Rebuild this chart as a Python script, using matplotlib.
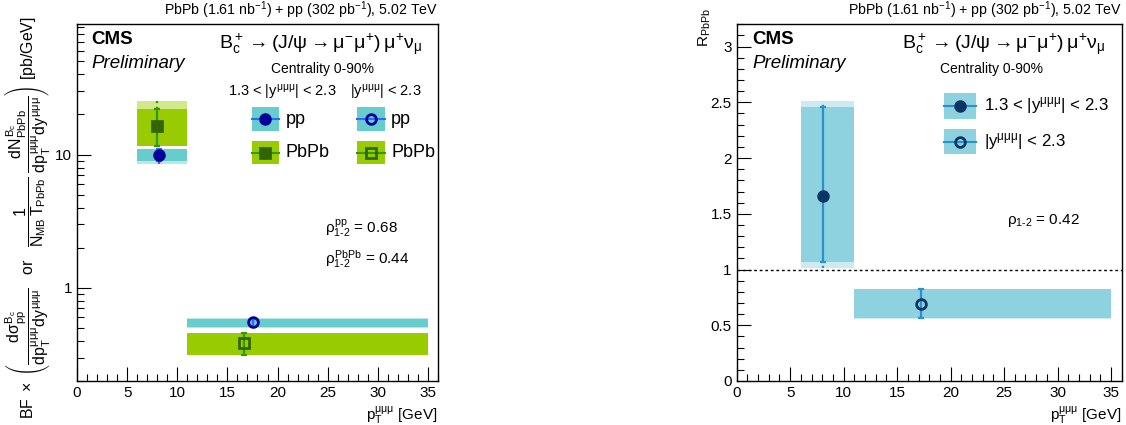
import numpy as np
import matplotlib
matplotlib.use('Agg')
import matplotlib.pyplot as plt
from matplotlib.patches import Rectangle
from matplotlib.lines import Line2D
from matplotlib.ticker import MultipleLocator, LogLocator, FixedLocator, NullFormatter

plt.rcParams['font.family'] = ['Liberation Sans', 'DejaVu Sans']
plt.rcParams['mathtext.fontset'] = 'custom'
plt.rcParams['mathtext.rm'] = 'Liberation Sans'
plt.rcParams['mathtext.it'] = 'Liberation Sans'
plt.rcParams['mathtext.bf'] = 'Liberation Sans:bold'

# ---- data: cross sections / yields (left panel) ----
bin_lo = [6, 11]
bin_hi = [11, 35]

# 1.3 < |y| < 2.3 (first bin), |y| < 2.3 (second bin)
pp_x = [8.15, 17.6]
pp_y = [10.0, 0.551]
pp_lo = [9.0, 0.505]
pp_hi = [11.1, 0.588]
pp_ext_lo = [8.5, 0.50]
pp_ext_hi = [11.1, 0.59]

pbpb_x = [8.0, 16.7]
pbpb_y = [16.5, 0.385]
pbpb_lo = [11.55, 0.315]
pbpb_hi = [22.1, 0.458]
pbpb_ext_lo = [11.55, 0.315]
pbpb_ext_hi = [25.1, 0.458]

# ---- data: R_PbPb (right panel) ----
raa_x = [8.1, 17.2]
raa_y = [1.66, 0.69]
raa_lo = [1.07, 0.563]
raa_hi = [2.457, 0.823]
raa_ext_lo = [1.017, 0.56]
raa_ext_hi = [2.51, 0.826]

rho_pp = 0.68
rho_pbpb = 0.44
rho_raa = 0.42

cyan = '#66cccc'
lime = '#99cc00'
navy = '#000099'
blue = '#3366ff'
dgreen = '#336600'
green = '#339900'
lblue = '#8fd2df'
rnavy = '#0a3566'
rline = '#2b8fcf'

mu3 = r'\mu\mu\mu'
fig = plt.figure(figsize=(11.26, 4.25), dpi=100)
ax1 = fig.add_axes([77/1126, 1-381/425, 361/1126, 356.7/425])
ax2 = fig.add_axes([736.7/1126, 1-381/425, 385/1126, 356.7/425])


def draw_point(ax, x, y, lo, hi, elo, ehi, b0, b1, fc, mc, lc, filled, marker):
    w = b1 - b0
    ax.bar(b0, ehi - elo, width=w, bottom=elo, align='edge', color=fc, alpha=0.45, lw=0, zorder=1)
    ax.bar(b0, hi - lo, width=w, bottom=lo, align='edge', color=fc, lw=0, zorder=2)
    ax.errorbar([x], [y], yerr=[[y - lo], [hi - y]], fmt='none', ecolor=lc,
                elinewidth=1.6, capsize=2.5, capthick=1.6, zorder=3)
    if ehi > hi:
        ax.vlines(x, hi, ehi, colors=lc, linestyles=':', lw=1.6, zorder=3)
    if elo < lo:
        ax.vlines(x, elo, lo, colors=lc, linestyles=':', lw=1.6, zorder=3)
    ax.plot([x], [y], marker=marker, ms=7, mec=mc, mew=2,
            mfc=mc if filled else 'none', ls='none', zorder=4)


def style_axes(ax):
    ax.set_xlim(0, 36)
    ax.xaxis.set_major_locator(MultipleLocator(5))
    ax.xaxis.set_minor_locator(MultipleLocator(1))
    ax.tick_params(which='both', direction='in', top=False, right=False, labelsize=11, width=0.8)
    ax.tick_params(which='major', length=10)
    ax.tick_params(which='minor', length=5)
    for s in ax.spines.values():
        s.set_linewidth(1.0)
    ax.text(1.0, 1.008, r'PbPb (1.61 nb$^{-1}$) + pp (302 pb$^{-1}$), 5.02 TeV',
            transform=ax.transAxes, ha='right', va='bottom', fontsize=10.2)
    ax.text(0.04, 0.98, 'CMS', transform=ax.transAxes, ha='left', va='top',
            fontsize=13.5, fontweight='bold')
    ax.text(0.04, 0.915, 'Preliminary', transform=ax.transAxes, ha='left', va='top',
            fontsize=13.5, style='italic')
    ax.text(1.0, -0.065, r'p$_{\mathrm{T}}^{' + mu3 + r'}$ [GeV]', transform=ax.transAxes,
            ha='right', va='top', fontsize=11)


# ---- left panel ----
for i in range(2):
    draw_point(ax1, pbpb_x[i], pbpb_y[i], pbpb_lo[i], pbpb_hi[i], pbpb_ext_lo[i], pbpb_ext_hi[i],
               bin_lo[i], bin_hi[i], lime, dgreen, green, i == 0, 's')
    draw_point(ax1, pp_x[i], pp_y[i], pp_lo[i], pp_hi[i], pp_ext_lo[i], pp_ext_hi[i],
               bin_lo[i], bin_hi[i], cyan, navy, blue, i == 0, 'o')

ax1.set_yscale('log')
ax1.set_ylim(0.2, 95)
ax1.yaxis.set_major_locator(FixedLocator([1, 10]))
ax1.yaxis.set_major_formatter(matplotlib.ticker.FixedFormatter(['1', '10']))
ax1.yaxis.set_minor_locator(LogLocator(base=10, subs=np.arange(2, 10)))
ax1.yaxis.set_minor_formatter(NullFormatter())
style_axes(ax1)

decay = r'$\mathrm{B_c^+}\rightarrow(\mathrm{J}/\psi\rightarrow\mu^{-}\mu^{+})\,\mu^{+}\nu_{\mu}$'
ax1.text(0.394, 0.945, decay, transform=ax1.transAxes, ha='left', va='center', fontsize=14)
ax1.text(0.681, 0.875, 'Centrality 0-90%', transform=ax1.transAxes, ha='center', va='center', fontsize=10)
ax1.text(0.568, 0.81, r'1.3 < |y$^{' + mu3 + r'}$| < 2.3', transform=ax1.transAxes,
         ha='center', va='center', fontsize=10.5)
ax1.text(0.856, 0.81, r'|y$^{' + mu3 + r'}$| < 2.3', transform=ax1.transAxes,
         ha='center', va='center', fontsize=10.5)

leg_rows = [(0.702, 0.767, cyan, navy, blue, 'o', 'pp'),
            (0.6075, 0.673, lime, dgreen, green, 's', 'PbPb')]
for x0, x1, tx, filled in [(0.484, 0.560, 0.578, True), (0.776, 0.852, 0.870, False)]:
    for y0, y1, fc, mc, lc, mk, lab in leg_rows:
        ax1.add_patch(Rectangle((x0, y0), x1 - x0, y1 - y0, transform=ax1.transAxes,
                                color=fc, lw=0, clip_on=False))
        yc = 0.5 * (y0 + y1)
        ax1.add_line(Line2D([x0, x1], [yc, yc], transform=ax1.transAxes, color=lc, lw=1.5))
        ax1.add_line(Line2D([0.5 * (x0 + x1)], [yc], transform=ax1.transAxes, marker=mk, ms=7,
                            mec=mc, mew=2, mfc=mc if filled else 'none', ls='none'))
        ax1.text(tx, yc, lab, transform=ax1.transAxes, ha='left', va='center', fontsize=13)

ax1.text(0.687, 0.429, r'$\rho^{\mathrm{pp}}_{\mathrm{1\text{-}2}}$ = %.2f' % rho_pp,
         transform=ax1.transAxes, ha='left', va='center', fontsize=11)
ax1.text(0.687, 0.342, r'$\rho^{\mathrm{PbPb}}_{\mathrm{1\text{-}2}}$ = %.2f' % rho_pbpb,
         transform=ax1.transAxes, ha='left', va='center', fontsize=11)

ylab = (r'$\mathrm{BF}\ \times\ \left(\dfrac{d\sigma^{B_c}_{pp}}{dp_T^{' + mu3 + r'}dy^{' + mu3 +
        r'}}\ \ \ \mathrm{or}\ \ \ \dfrac{1}{N_{MB}\,T_{PbPb}}\ \dfrac{dN^{B_c}_{PbPb}}{dp_T^{' + mu3 +
        r'}dy^{' + mu3 + r'}}\right)$ [pb/GeV]')
fig.text(0.0255, 0.487, ylab, rotation=90, ha='center', va='center', fontsize=11.4)

# ---- right panel ----
for i in range(2):
    draw_point(ax2, raa_x[i], raa_y[i], raa_lo[i], raa_hi[i], raa_ext_lo[i], raa_ext_hi[i],
               bin_lo[i], bin_hi[i], lblue, rnavy, rline, i == 0, 'o')
ax2.axhline(1.0, color='black', ls=(0, (2, 2)), lw=1.0, zorder=5)
ax2.set_ylim(0, 3.2)
ax2.yaxis.set_major_locator(MultipleLocator(0.5))
ax2.yaxis.set_minor_locator(MultipleLocator(0.1))
ax2.yaxis.set_major_formatter(matplotlib.ticker.FuncFormatter(lambda v, p: '%g' % v))
style_axes(ax2)

ax2.text(0.429, 0.945, decay, transform=ax2.transAxes, ha='left', va='center', fontsize=14)
ax2.text(0.662, 0.875, 'Centrality 0-90%', transform=ax2.transAxes, ha='center', va='center', fontsize=10)

leg2 = [(0.735, 0.807, True, r'1.3 < |y$^{' + mu3 + r'}$| < 2.3'),
        (0.636, 0.706, False, r'|y$^{' + mu3 + r'}$| < 2.3')]
for y0, y1, filled, lab in leg2:
    x0, x1 = 0.539, 0.621
    ax2.add_patch(Rectangle((x0, y0), x1 - x0, y1 - y0, transform=ax2.transAxes,
                            color=lblue, lw=0, clip_on=False))
    yc = 0.5 * (y0 + y1)
    ax2.add_line(Line2D([x0, x1], [yc, yc], transform=ax2.transAxes, color=rline, lw=1.5))
    ax2.add_line(Line2D([0.5 * (x0 + x1)], [yc], transform=ax2.transAxes, marker='o', ms=7,
                        mec=rnavy, mew=2, mfc=rnavy if filled else 'none', ls='none'))
    ax2.text(0.643, yc, lab, transform=ax2.transAxes, ha='left', va='center', fontsize=12.2)

ax2.text(0.701, 0.451, r'$\rho_{\mathrm{1\text{-}2}}$ = %.2f' % rho_raa,
         transform=ax2.transAxes, ha='left', va='center', fontsize=11)
fig.text(705/1126, 1 - 8/425, r'R$_{\mathrm{PbPb}}$', rotation=90, ha='center', va='top', fontsize=11)

fig.savefig('out.png', dpi=100)
